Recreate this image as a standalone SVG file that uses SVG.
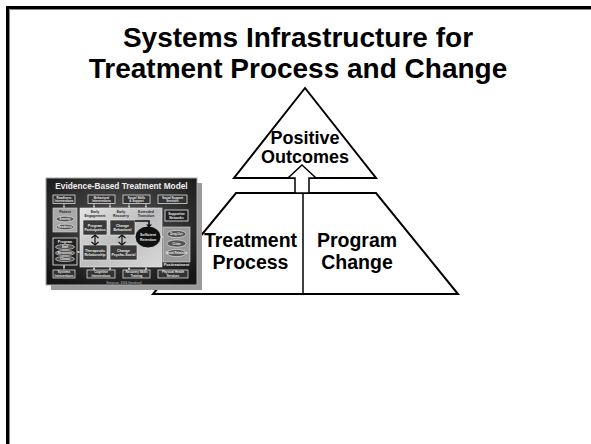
<svg xmlns="http://www.w3.org/2000/svg" width="591" height="444" viewBox="0 0 591 444">
<defs>
<radialGradient id="slideGrad" cx="50%" cy="40%" r="70%">
<stop offset="0" stop-color="#555"/>
<stop offset="1" stop-color="#151515"/>
</radialGradient>
<linearGradient id="midGrad" x1="0" y1="0" x2="1" y2="1">
<stop offset="0" stop-color="#e4e4e4"/>
<stop offset="0.5" stop-color="#bdbdbd"/>
<stop offset="1" stop-color="#d8d8d8"/>
</linearGradient>
<marker id="tArr" viewBox="0 0 6 6" refX="5" refY="3" markerWidth="3" markerHeight="3" orient="auto">
<path d="M0,0 L6,3 L0,6 Z" fill="#ddd"/>
</marker>
</defs>
<style>
.big{font-family:"Liberation Sans",Arial,sans-serif;font-weight:bold;fill:#000;text-anchor:middle}
.shape{fill:#fff;stroke:#000;stroke-width:2;stroke-linejoin:miter}
.t{font-family:"Liberation Sans",Arial,sans-serif;font-weight:bold;text-anchor:middle}
.tw{fill:#eee}
.td{fill:#222}
.bx{fill:#333;stroke:#ddd;stroke-width:0.8}
.ov{fill:#555;stroke:#eee;stroke-width:0.6}
.ar{stroke:#ddd;stroke-width:0.8;fill:none;marker-end:url(#tArr)}
</style>
<rect width="591" height="444" fill="#fff"/>
<g id="frame">
<rect x="7.5" y="7.5" width="700" height="600" fill="none" stroke="#000" stroke-width="3"/>
<rect x="9.5" y="9.5" width="700" height="600" fill="none" stroke="#888" stroke-width="1"/>
</g>
<g id="title">
<text class="big" x="298" y="47" font-size="28">Systems Infrastructure for</text>
<text class="big" x="298" y="78" font-size="28">Treatment Process and Change</text>
</g>
<g id="positive-outcomes">
<polygon class="shape" points="305,88 234,178 376,178"/>
<text class="big" x="305" y="143.5" font-size="18">Positive</text>
<text class="big" x="305" y="163" font-size="18">Outcomes</text>
</g>
<g id="base">
<polygon class="shape" points="236,193 376,193 458,294 153,294"/>
<line x1="303" y1="193" x2="303" y2="294" stroke="#000" stroke-width="1.5"/>
</g>
<g id="treatment-process">
<text class="big" x="250.5" y="247" font-size="19.5">Treatment</text>
<text class="big" x="250.5" y="269" font-size="19.5">Process</text>
</g>
<g id="program-change">
<text class="big" x="357" y="247" font-size="19.5">Program</text>
<text class="big" x="357" y="269" font-size="19.5">Change</text>
</g>
<g id="connectors">
<polygon points="302,165 316,178 309,178 309,193 295,193 295,178 288,178" fill="#fff" stroke="#000" stroke-width="1.5" stroke-linejoin="miter"/>
</g>
<g id="thumbnail">
<rect x="51" y="183" width="151" height="107" fill="#9a9a9a"/>
<rect x="46" y="178" width="151" height="107" fill="url(#slideGrad)" stroke="#aaa" stroke-width="1"/>
<text class="t tw" x="121.5" y="189" font-size="8.3">Evidence-Based Treatment Model</text>
<g id="top-row">
<rect class="bx" x="53" y="195" width="22" height="8.5"/>
<rect class="bx" x="88" y="195" width="27" height="8.5"/>
<rect class="bx" x="123" y="195" width="27" height="8.5"/>
<rect class="bx" x="158" y="195" width="29" height="8.5"/>
<text class="t tw" font-size="3"><tspan x="64" y="198.5">Readiness</tspan><tspan x="64" y="202">Interventions</tspan></text>
<text class="t tw" font-size="3"><tspan x="101.5" y="198.5">Behavioral</tspan><tspan x="101.5" y="202">Interventions</tspan></text>
<text class="t tw" font-size="3"><tspan x="136.5" y="198.5">Social Skills</tspan><tspan x="136.5" y="202">&amp; Support</tspan></text>
<text class="t tw" font-size="3"><tspan x="172.5" y="198.5">Social Support</tspan><tspan x="172.5" y="202">Services</tspan></text>
</g>
<path class="ar" d="M64,203.5 V207.5"/>
<path class="ar" d="M94,203.5 V207.5"/>
<path class="ar" d="M110,203.5 V207.5"/>
<path class="ar" d="M129,203.5 V207.5"/>
<path class="ar" d="M146,203.5 V207.5"/>
<g id="patient">
<rect x="53" y="208" width="24" height="24" fill="#a8a8a8" stroke="#ddd" stroke-width="0.6"/>
<text class="t td" x="65" y="213" font-size="3.5">Patient</text>
<ellipse class="ov" cx="65" cy="219" rx="9" ry="2.8"/>
<ellipse class="ov" cx="65" cy="227" rx="9" ry="2.8"/>
<text class="t tw" x="65" y="220" font-size="2.8">Severity</text>
<text class="t tw" x="65" y="228" font-size="2.8">Readiness</text>
</g>
<rect x="80" y="208" width="82" height="59" fill="url(#midGrad)" stroke="#eee" stroke-width="0.6"/>
<text class="t td" font-size="3.5"><tspan x="95" y="212.5">Early</tspan><tspan x="95" y="216.5">Engagement</tspan></text>
<text class="t td" font-size="3.5"><tspan x="121" y="212.5">Early</tspan><tspan x="121" y="216.5">Recovery</tspan></text>
<text class="t td" font-size="3.5"><tspan x="146" y="212.5">Extended</tspan><tspan x="146" y="216.5">Transition</tspan></text>
<rect x="83" y="220" width="24" height="15" fill="#3a3a3a" stroke="#eee" stroke-width="0.6"/>
<rect x="110" y="220" width="25" height="15" fill="#3a3a3a" stroke="#eee" stroke-width="0.6"/>
<rect x="83" y="245" width="24" height="15" fill="#3a3a3a" stroke="#eee" stroke-width="0.6"/>
<rect x="110" y="245" width="27" height="15" fill="#3a3a3a" stroke="#eee" stroke-width="0.6"/>
<text class="t tw" font-size="3.5"><tspan x="95" y="226.5">Program</tspan><tspan x="95" y="231">Participation</tspan></text>
<text class="t tw" font-size="3.5"><tspan x="122.5" y="226.5">Change</tspan><tspan x="122.5" y="231">Behavioral</tspan></text>
<text class="t tw" font-size="3.5"><tspan x="95" y="251.5">Therapeutic</tspan><tspan x="95" y="256">Relationship</tspan></text>
<text class="t tw" font-size="3.5"><tspan x="123.5" y="251.5">Change</tspan><tspan x="123.5" y="256">Psycho-Social</tspan></text>
<ellipse cx="148" cy="237" rx="13" ry="11" fill="#111" stroke="#eee" stroke-width="0.8"/>
<text class="t tw" font-size="3.5"><tspan x="148" y="236">Sufficient</tspan><tspan x="148" y="240.5">Retention</tspan></text>
<path d="M135,221 H149 V225" stroke="#111" stroke-width="1.6" fill="none"/>
<path d="M146,224.5 L149,228 L152,224.5 Z" fill="#111"/>
<path d="M95,235 V245 M91.5,238 L95,235 L98.5,238 M91.5,242 L95,245 L98.5,242" stroke="#111" stroke-width="1.2" fill="none"/>
<path d="M122,235 V245 M118.5,238 L122,235 L125.5,238 M118.5,242 L122,245 L125.5,242" stroke="#111" stroke-width="1.2" fill="none"/>
<g id="program">
<rect x="53" y="238" width="24" height="27" fill="#222" stroke="#eee" stroke-width="0.8"/>
<text class="t tw" x="65" y="242.5" font-size="3.5">Program</text>
<ellipse class="ov" cx="65" cy="247" rx="9.5" ry="2.6"/>
<ellipse class="ov" cx="65" cy="253" rx="9.5" ry="2.6"/>
<ellipse class="ov" cx="65" cy="259" rx="9.5" ry="2.6"/>
<text class="t tw" x="65" y="248" font-size="2.8">Staff</text>
<text class="t tw" x="65" y="254" font-size="2.8">Resources</text>
<text class="t tw" x="65" y="260" font-size="2.8">Climate</text>
</g>
<path class="ar" d="M77,252 H79.5"/>
<g id="supportive">
<rect x="165" y="210" width="23" height="11" fill="#222" stroke="#eee" stroke-width="0.8"/>
<text class="t tw" font-size="3.2"><tspan x="176.5" y="214.5">Supportive</tspan><tspan x="176.5" y="218.5">Networks</tspan></text>
</g>
<g id="posttreatment">
<rect x="163" y="227" width="27" height="35" fill="#9a9a9a" stroke="#ddd" stroke-width="0.6"/>
<ellipse class="ov" cx="176.5" cy="234" rx="9.5" ry="3.6"/>
<ellipse class="ov" cx="176.5" cy="243.5" rx="9.5" ry="3.6"/>
<ellipse class="ov" cx="176.5" cy="253" rx="9.5" ry="3.6"/>
<text class="t tw" x="176.5" y="235" font-size="2.8">Drug Use</text>
<text class="t tw" x="176.5" y="244.5" font-size="2.8">Crime</text>
<text class="t tw" x="176.5" y="254" font-size="2.8">Social Relations</text>
<text class="t tw" x="176.5" y="266" font-size="3.8">Posttreatment</text>
</g>
<path class="ar" d="M162,237 H163"/>
<path class="ar" d="M64,269.5 V265.5"/>
<path class="ar" d="M94,269.5 V267.5"/>
<path class="ar" d="M110,269.5 V267.5"/>
<path class="ar" d="M129,269.5 V267.5"/>
<path class="ar" d="M146,269.5 V267.5"/>
<g id="bottom-row">
<rect class="bx" x="53" y="270" width="22" height="8"/>
<rect class="bx" x="87" y="270" width="28" height="8"/>
<rect class="bx" x="123" y="270" width="27" height="8"/>
<rect class="bx" x="158" y="270" width="30" height="8"/>
<text class="t tw" font-size="3"><tspan x="64" y="273.3">Systems</tspan><tspan x="64" y="276.8">Interventions</tspan></text>
<text class="t tw" font-size="3"><tspan x="101" y="273.3">Cognitive</tspan><tspan x="101" y="276.8">Interventions</tspan></text>
<text class="t tw" font-size="3"><tspan x="136.5" y="273.3">Recovery Skills</tspan><tspan x="136.5" y="276.8">Training</tspan></text>
<text class="t tw" font-size="3"><tspan x="173" y="273.3">Physical Health</tspan><tspan x="173" y="276.8">Services</tspan></text>
</g>
<text class="t" x="124" y="283.5" font-size="3" fill="#999">Simpson, 2004 (handout)</text>
</g>
</svg>
